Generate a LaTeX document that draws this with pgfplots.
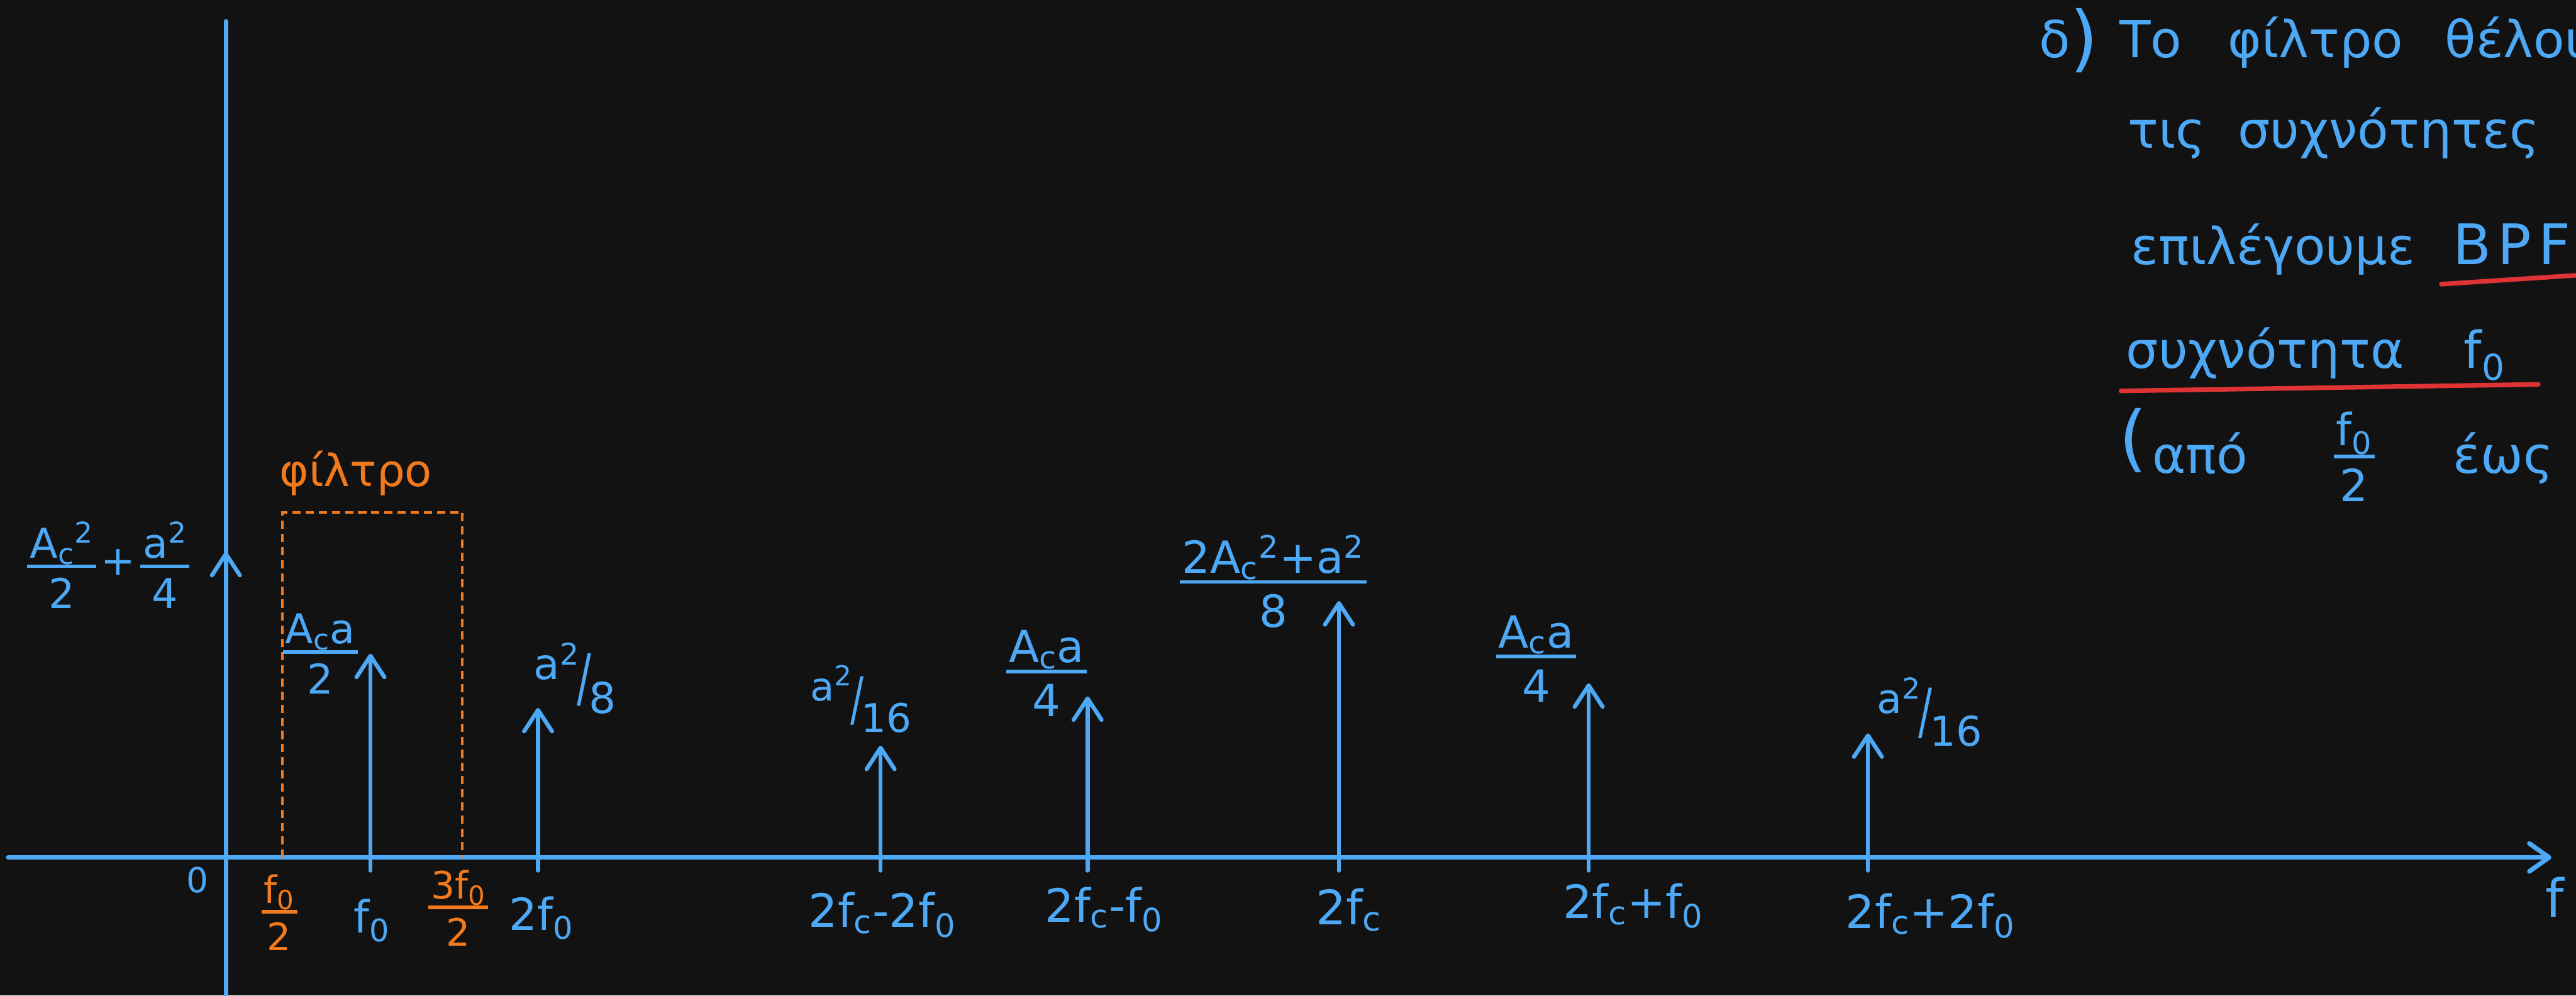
\documentclass[border=0pt]{standalone}
\usepackage{pgfplots}
\pgfplotsset{compat=1.18}
\usepackage{pgfplotstable}
\usepackage{graphicx}
\usepackage{fontspec}
\setmainfont{DejaVu Sans}
\usetikzlibrary{arrows.meta}

\definecolor{board}{HTML}{121212}
\definecolor{pen}{HTML}{4DA8F5}
\definecolor{filt}{HTML}{F27A1E}
\definecolor{hilite}{HTML}{E03434}

% spectral lines: position on the f axis and drawn height
\pgfplotstableread{
pos    height
0      186
88     124
190    91
398.5  68
524.5  98
677.5  156
829.5  106
999.5  75.5
}\impulses

% stacked fraction with a thick bar
\newcommand{\hfrac}[2]{{\renewcommand{\arraystretch}{0}\setlength{\arrayrulewidth}{2.2pt}\setlength{\tabcolsep}{0pt}%
  \begin{tabular}[c]{@{\hspace{1.5pt}}c@{\hspace{1.5pt}}}\rule[-0.16em]{0pt}{0.8em}#1\\\hline\rule{0pt}{0.98em}#2\end{tabular}}}
% slanted fraction
\newcommand{\sfr}[2]{\raisebox{0.34em}{#1}\kern-0.06em\raisebox{-0.14em}{\scalebox{1}[1.5]{/}}\kern-0.06em\raisebox{-0.46em}{#2}}
\newcommand{\fo}{f\textsubscript{0}}
\newcommand{\fc}{f\textsubscript{c}}
\newcommand{\sz}[1]{\fontsize{#1}{#1}\selectfont}

\begin{document}
\begin{tikzpicture}[
  lab/.style={text=pen, inner sep=0pt},
  olab/.style={text=filt, inner sep=0pt},
]
\fill[board] (0,0) rectangle (1568pt,606pt);
\begin{axis}[
  x=1pt, y=1pt,
  xmin=-137.5, xmax=1430.5, ymin=-84, ymax=522,
  hide axis, clip=false,
  anchor=south west, at={(0pt,0pt)},
]
% axes
\addplot[pen, line width=2.8pt, line cap=round, -{Straight Barb[length=12pt,width=17pt,round]}]
  coordinates {(-132.5,0) (1415.5,0)};
\addplot[pen, line width=2.8pt, line cap=round] coordinates {(0,-84) (0,509)};

% pass band of the filter
\addplot[filt, line width=1.6pt, dash pattern=on 5pt off 3pt]
  coordinates {(34.5,0) (34.5,210) (144,210) (144,0)};

% spectral lines
\addplot[pen, line width=2.5pt, line cap=round,
  -{Straight Barb[length=13pt,width=17pt,round]},
  quiver={u=0, v=\thisrow{height}+8}]
  table[x=pos, y expr=-8] {\impulses};

% amplitudes
\node[lab, font=\sz{25}] at (axis cs:-71.5,178)
  {\hfrac{A\textsubscript{c}\textsuperscript{2}}{2}\hspace{3pt}+\hspace{3pt}\hfrac{a\textsuperscript{2}}{4}};
\node[lab, font=\sz{25}] at (axis cs:57.5,124) {\hfrac{A\textsubscript{c}a}{2}};
\node[lab, font=\sz{26}] at (axis cs:212.5,109) {\sfr{a\textsuperscript{2}}{8}};
\node[lab, font=\sz{24}] at (axis cs:386.5,96.5) {\sfr{a\textsuperscript{2}}{16}};
\node[lab, font=\sz{27}] at (axis cs:499.5,112) {\hfrac{A\textsubscript{c}a}{4}};
\node[lab, font=\sz{27}] at (axis cs:637.5,168)
  {\hfrac{2A\textsubscript{c}\textsuperscript{2}+a\textsuperscript{2}}{8}};
\node[lab, font=\sz{27}] at (axis cs:797.5,121) {\hfrac{A\textsubscript{c}a}{4}};
\node[lab, font=\sz{25}] at (axis cs:1037,88.5) {\sfr{a\textsuperscript{2}}{16}};

% filter label
\node[olab, font=\sz{27}, anchor=base west] at (axis cs:32.5,226) {φίλτρο};

% frequencies
\node[lab, font=\sz{21}] at (axis cs:-17.5,-13.6) {0};
\node[olab, font=\sz{23}] at (axis cs:32.5,-33.6) {\hfrac{\fo}{2}};
\node[lab, font=\sz{27}] at (axis cs:89,-38.5) {\fo};
\node[olab, font=\sz{23}] at (axis cs:141.5,-31) {\hfrac{3\fo}{2}};
\node[lab, font=\sz{27}] at (axis cs:192,-37) {2\fo};
\node[lab, font=\sz{28}] at (axis cs:399.5,-35) {2\fc-2\fo};
\node[lab, font=\sz{28}] at (axis cs:534.5,-31.7) {2\fc-\fo};
\node[lab, font=\sz{29}] at (axis cs:683.5,-32) {2\fc};
\node[lab, font=\sz{28}] at (axis cs:856.5,-29.5) {2\fc+\fo};
\node[lab, font=\sz{28}] at (axis cs:1037.5,-35.6) {2\fc+2\fo};
\node[lab, font=\sz{32}] at (axis cs:1417.5,-24) {f};

% notes
\node[lab, font=\sz{31}, anchor=base west] at (axis cs:1103.5,487) {δ{\sz{44}\raisebox{-0.08em}{)}}};
\node[lab, font=\sz{31}, anchor=base west] at (axis cs:1152.5,487) {Το};
\node[lab, font=\sz{31}, anchor=base west] at (axis cs:1218.5,487) {φίλτρο};
\node[lab, font=\sz{31}, anchor=base west] at (axis cs:1350.5,487) {θέλουμε};
\node[lab, font=\sz{31}, anchor=base west] at (axis cs:1157.5,432) {τις};
\node[lab, font=\sz{31}, anchor=base west] at (axis cs:1224.5,432) {συχνότητες};
\node[lab, font=\sz{31}, anchor=base west] at (axis cs:1159.5,361) {επιλέγουμε};
\node[lab, font=\sz{34}, anchor=base west] at (axis cs:1355.5,361) {B\hspace{4pt}P\hspace{4pt}F};
\node[lab, font=\sz{31}, anchor=base west] at (axis cs:1156.5,298) {συχνότητα};
\node[lab, font=\sz{31}, anchor=base west] at (axis cs:1362,298) {\fo};
\node[lab, font=\sz{44}, anchor=base west] at (axis cs:1152,240) {(};
\node[lab, font=\sz{31}, anchor=base west] at (axis cs:1172.5,234) {από};
\node[lab, font=\sz{27}] at (axis cs:1295.5,244) {\hfrac{\fo}{2}};
\node[lab, font=\sz{31}, anchor=base west] at (axis cs:1355.5,234) {έως};

% underlines
\addplot[hilite, line width=2.8pt, line cap=round] coordinates {(1348.5,349) (1440,355)};
\addplot[hilite, line width=2.8pt, line cap=round] coordinates {(1153.5,284) (1407.5,288)};
\end{axis}
\pgfresetboundingbox
\path[use as bounding box] (0,0) rectangle (1568pt,606pt);
\end{tikzpicture}
\end{document}
